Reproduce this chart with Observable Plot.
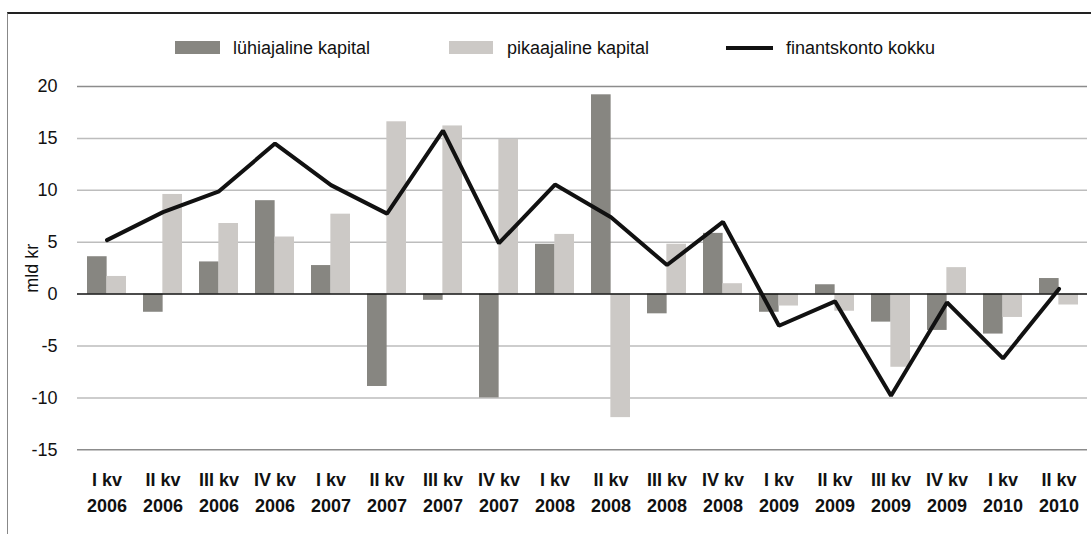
<!DOCTYPE html>
<html>
<head>
<meta charset="utf-8">
<script src="https://cdn.jsdelivr.net/npm/d3@7"></script>
<script src="https://cdn.jsdelivr.net/npm/@observablehq/plot@0.6"></script>
<style>
  html, body { margin: 0; padding: 0; background: #fff; }
  #wrap { position: relative; width: 1091px; height: 534px; overflow: hidden; font-family: "Liberation Sans", Arial, Helvetica, sans-serif; color: #111; }
  #frame { position: absolute; left: 7px; top: 12px; right: 0; height: 520px; border-top: 2px solid #222; border-left: 1.5px solid #888; }
  #legend { position: absolute; left: 0; top: 0; width: 1091px; height: 70px; }
  .sw { position: absolute; }
  .lt { position: absolute; top: 38.4px; font-size: 18px; line-height: 20px; white-space: nowrap; color: #111; }
  #chart { position: absolute; left: 0; top: 0; }
</style>
</head>
<body>
<div id="wrap">
  <div id="frame"></div>
  <div id="chart"></div>
  <div id="legend">
    <div class="sw" style="left:175px;top:41px;width:45px;height:13px;background:#878681"></div>
    <div class="lt" style="left:233px">lühiajaline kapital</div>
    <div class="sw" style="left:449px;top:41px;width:44px;height:13px;background:#ccc9c6"></div>
    <div class="lt" style="left:507px">pikaajaline kapital</div>
    <div class="sw" style="left:726px;top:45.5px;width:47px;height:4px;background:#111"></div>
    <div class="lt" style="left:786px">finantskonto kokku</div>
  </div>
</div>
<script>
const quarters = ["I kv","II kv","III kv","IV kv","I kv","II kv","III kv","IV kv","I kv","II kv","III kv","IV kv","I kv","II kv","III kv","IV kv","I kv","II kv"];
const years = ["2006","2006","2006","2006","2007","2007","2007","2007","2008","2008","2008","2008","2009","2009","2009","2009","2010","2010"];
const shortTerm = [3.6, -1.75, 3.1, 9.0, 2.75, -8.9, -0.6, -10.0, 4.8, 19.2, -1.9, 5.85, -1.75, 0.9, -2.7, -3.5, -3.85, 1.5];
const longTerm = [1.7, 9.6, 6.8, 5.5, 7.7, 16.6, 16.2, 14.9, 5.75, -11.9, 4.8, 1.0, -1.15, -1.65, -7.05, 2.55, -2.25, -1.05];
const total = [5.2, 7.9, 9.9, 14.5, 10.5, 7.75, 15.75, 4.9, 10.55, 7.4, 2.8, 6.95, -3.05, -0.7, -9.8, -0.8, -6.2, 0.5];
const yTicks = [-15, -10, -5, 0, 5, 10, 15, 20];

const labels = quarters.map((q, i) => q + "\n" + years[i]);
const rows = labels.map((k, i) => ({key: k, short: shortTerm[i], long: longTerm[i], total: total[i]}));

const W = 1091, H = 534, mL = 77, mR = 4, mT = 86, mB = 84.7;
const padIn = 0.31;
const step = (W - mL - mR) / labels.length;
const half = step * (1 - padIn) / 2;
const font = "'Liberation Sans', Arial, Helvetica, sans-serif";

const chart = Plot.plot({
  width: W, height: H,
  marginTop: mT, marginBottom: mB, marginLeft: mL, marginRight: mR,
  style: {fontFamily: font, fontSize: "18px", background: "transparent", color: "#111", overflow: "visible"},
  x: {domain: labels, paddingInner: padIn, paddingOuter: padIn / 2, axis: null},
  y: {domain: [-15, 20], axis: null},
  marks: [
    Plot.ruleY(yTicks.filter(d => d !== 20 && d !== -15 && d !== 0), {stroke: "#bdbdbd", strokeWidth: 1.5}),
    Plot.ruleY([20, -15], {stroke: "#8c8c8c", strokeWidth: 1.5}),
    Plot.barY(rows, {x: "key", y: "short", fill: "#878681", insetRight: half}),
    Plot.barY(rows, {x: "key", y: "long", fill: "#ccc9c6", insetLeft: half}),
    Plot.ruleY([0], {stroke: "#111", strokeWidth: 1.5}),
    Plot.line(rows, {x: "key", y: "total", stroke: "#111", strokeWidth: 4, strokeLinejoin: "miter"}),
    Plot.axisY(yTicks, {tickSize: 0, tickPadding: 20, fontSize: 18, label: null, fill: "#111", tickFormat: d => String(d)}),
    Plot.axisX({tickSize: 0, tickPadding: 18, fontSize: 18, fontWeight: "bold", lineHeight: 1.43, label: null, fill: "#111"}),
    Plot.text(["mld kr"], {frameAnchor: "left", textAnchor: "middle", dx: -45, rotate: -90, fontSize: 18, fill: "#111"})
  ]
});
document.getElementById("chart").appendChild(chart);
</script>
</body>
</html>
